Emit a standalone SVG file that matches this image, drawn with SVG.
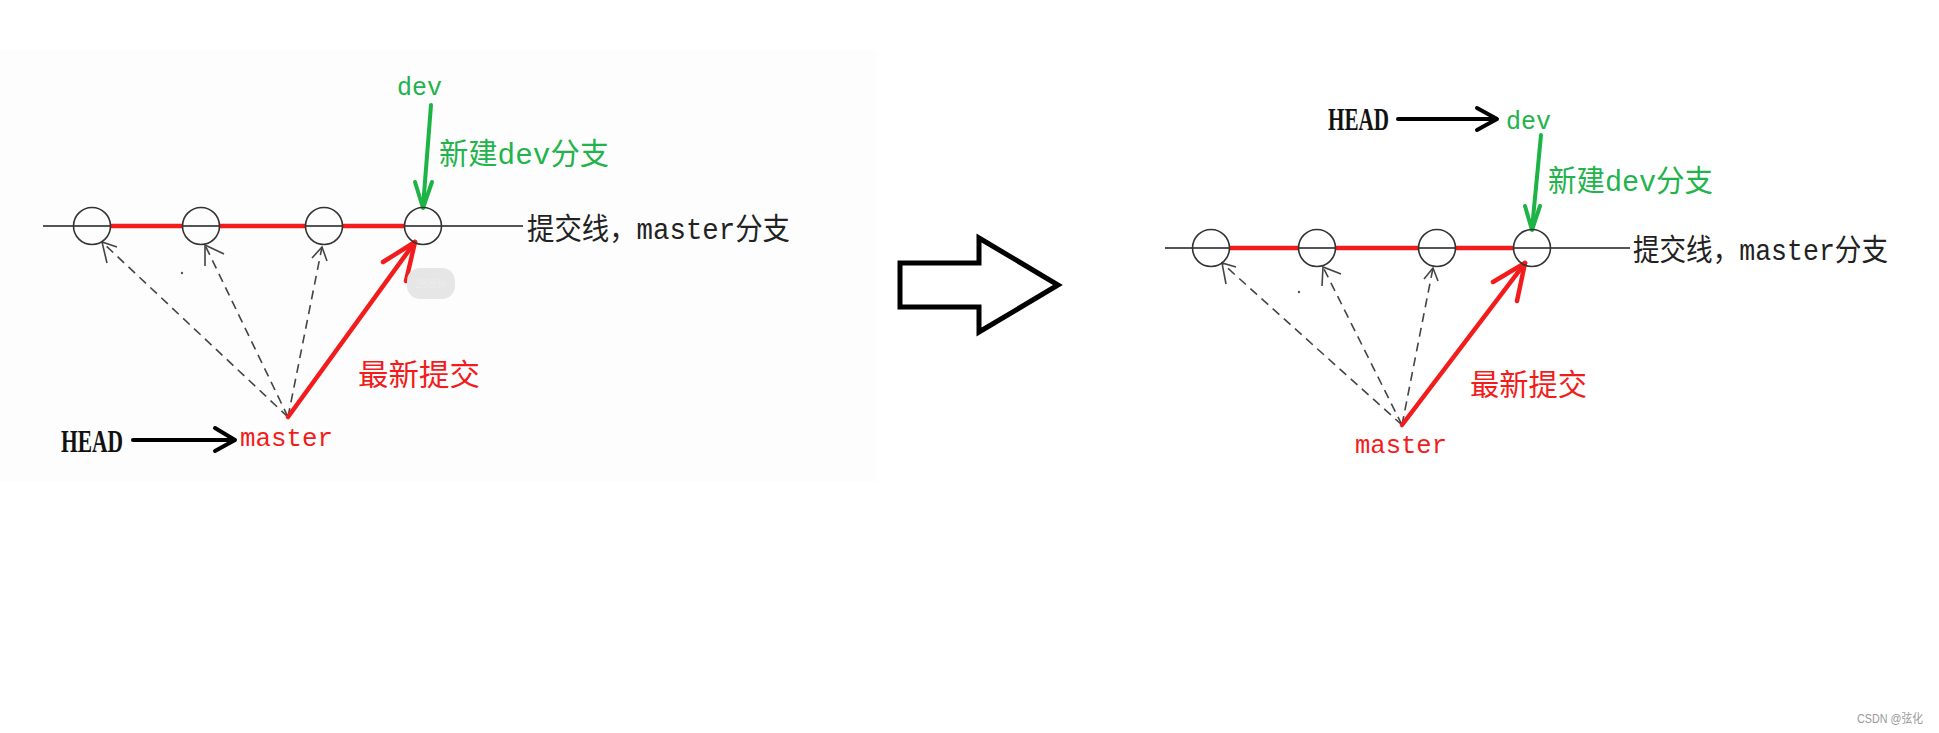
<svg xmlns="http://www.w3.org/2000/svg" width="1939" height="733" viewBox="0 0 1939 733">
  <style>
    .axis{stroke:#555;stroke-width:2;fill:none}
    .commit{stroke:#333;stroke-width:1.6;fill:none}
    .redline{stroke:#f21c1c;stroke-width:4.5;fill:none}
    .dash{stroke:#444;stroke-width:1.6;stroke-dasharray:9 6;fill:none}
    .dhead{stroke:#444;stroke-width:1.6;fill:none}
    .red{stroke:#f21c1c;stroke-width:4.5;fill:none;stroke-linecap:round;stroke-linejoin:round}
    .green{stroke:#1db446;stroke-width:4;fill:none;stroke-linecap:round;stroke-linejoin:round}
    .black{stroke:#000;stroke-width:4;fill:none;stroke-linecap:round;stroke-linejoin:round}
    .cjk{font-family:"Liberation Mono","Noto Sans CJK SC",monospace;font-size:30px}
    .mono{font-family:"Liberation Mono","Noto Sans CJK SC",monospace;font-size:26px}
    .head{font-family:"Liberation Serif",serif;font-weight:bold;font-size:32px;fill:#111}
    .g{fill:#22b34c}
    .r{fill:#f21c1c}
    .k{fill:#222}
  </style>
  <rect x="0" y="0" width="1939" height="733" fill="#fff"/>
  <rect x="0" y="50" width="877" height="432" fill="#fdfdfd"/>

  <!-- LEFT DIAGRAM -->
  <g id="left-axis">
    <line class="axis" x1="43" y1="226" x2="523" y2="226"/>
  </g>
  <g id="left-connectors">
    <line class="redline" x1="110.5" y1="226" x2="182.5" y2="226"/>
    <line class="redline" x1="219.5" y1="226" x2="305.5" y2="226"/>
    <line class="redline" x1="342.5" y1="226" x2="404.5" y2="226"/>
    <line class="dash" x1="288" y1="417" x2="102" y2="242"/>
    <path class="dhead" d="M107,263 L102,242 L117,247"/>
    <line class="dash" x1="288" y1="417" x2="205" y2="245"/>
    <path class="dhead" d="M205,266 L205,245 L224,254"/>
    <line class="dash" x1="288" y1="417" x2="322" y2="247"/>
    <path class="dhead" d="M312,258 L322,247 L327,261"/>
    <line class="red" x1="288" y1="417" x2="415" y2="242"/>
    <path class="red" d="M383,262 L415,242 L406,281"/>
    <line class="green" x1="431" y1="105" x2="423" y2="207"/>
    <path class="green" d="M415,182 L423,208 L432,182"/>
    <line class="black" x1="133" y1="440" x2="233" y2="440"/>
    <path class="black" d="M215,428 L235,440 L215,451"/>
    <circle cx="182" cy="273" r="1.2" fill="#555"/>
  </g>
  <g id="left-c1"><circle class="commit" cx="92" cy="226" r="18.5"/></g>
  <g id="left-c2"><circle class="commit" cx="201" cy="226" r="18.5"/></g>
  <g id="left-c3"><circle class="commit" cx="324" cy="226" r="18.5"/></g>
  <g id="left-c4"><circle class="commit" cx="423" cy="226" r="18.5"/></g>
  <g id="left-dev"><text class="mono g" x="397" y="95" textLength="45" lengthAdjust="spacingAndGlyphs">dev</text></g>
  <g id="left-newdev"><text class="cjk g" x="439" y="164" textLength="170" lengthAdjust="spacingAndGlyphs">新建dev分支</text></g>
  <g id="left-line-label"><text class="cjk k" x="527" y="239" textLength="263" lengthAdjust="spacingAndGlyphs">提交线，master分支</text></g>
  <g id="left-latest"><text class="cjk r" x="358" y="385" textLength="122" lengthAdjust="spacingAndGlyphs">最新提交</text></g>
  <g id="left-head"><text class="head" x="61" y="452" textLength="62" lengthAdjust="spacingAndGlyphs">HEAD</text></g>
  <g id="left-master"><text class="mono r" x="240" y="446" textLength="93" lengthAdjust="spacingAndGlyphs">master</text></g>
  <g id="zoom-badge">
    <rect x="407" y="268" width="48" height="31" rx="13" fill="#e6e6e6"/>
    <text x="431" y="288" text-anchor="middle" font-family="Liberation Sans, sans-serif" font-size="12" fill="#ececec">266%</text>
  </g>

  <!-- BIG ARROW -->
  <g id="transition-arrow">
    <polygon points="900,263 979,263 979,238 1058,285 979,332 979,307 900,307" fill="#fff" stroke="#000" stroke-width="5" stroke-linejoin="miter"/>
  </g>

  <!-- RIGHT DIAGRAM -->
  <g id="right-axis">
    <line class="axis" x1="1165" y1="248" x2="1630" y2="248"/>
  </g>
  <g id="right-connectors">
    <line class="redline" x1="1229.5" y1="248" x2="1298.5" y2="248"/>
    <line class="redline" x1="1335.5" y1="248" x2="1418.5" y2="248"/>
    <line class="redline" x1="1455.5" y1="248" x2="1513.5" y2="248"/>
    <line class="dash" x1="1402" y1="425" x2="1222" y2="263"/>
    <path class="dhead" d="M1226,284 L1222,263 L1236,267"/>
    <line class="dash" x1="1402" y1="425" x2="1323" y2="267"/>
    <path class="dhead" d="M1322,286 L1323,267 L1341,274"/>
    <line class="dash" x1="1402" y1="425" x2="1433" y2="268"/>
    <path class="dhead" d="M1424,279 L1433,268 L1438,281"/>
    <line class="red" x1="1402" y1="425" x2="1525" y2="263"/>
    <path class="red" d="M1493,282 L1525,263 L1517,301"/>
    <line class="green" x1="1541" y1="135" x2="1532" y2="229"/>
    <path class="green" d="M1525,206 L1532,230 L1540,206"/>
    <line class="black" x1="1398" y1="119" x2="1495" y2="119"/>
    <path class="black" d="M1477,108 L1497,119 L1477,130"/>
    <circle cx="1299" cy="292" r="1.2" fill="#555"/>
  </g>
  <g id="right-c1"><circle class="commit" cx="1211" cy="248" r="18.5"/></g>
  <g id="right-c2"><circle class="commit" cx="1317" cy="248" r="18.5"/></g>
  <g id="right-c3"><circle class="commit" cx="1437" cy="248" r="18.5"/></g>
  <g id="right-c4"><circle class="commit" cx="1532" cy="248" r="18.5"/></g>
  <g id="right-head"><text class="head" x="1328" y="130" textLength="61" lengthAdjust="spacingAndGlyphs">HEAD</text></g>
  <g id="right-dev"><text class="mono g" x="1506" y="129" textLength="45" lengthAdjust="spacingAndGlyphs">dev</text></g>
  <g id="right-newdev"><text class="cjk g" x="1548" y="191" textLength="165" lengthAdjust="spacingAndGlyphs">新建dev分支</text></g>
  <g id="right-line-label"><text class="cjk k" x="1633" y="260" textLength="255" lengthAdjust="spacingAndGlyphs">提交线，master分支</text></g>
  <g id="right-latest"><text class="cjk r" x="1470" y="395" textLength="117" lengthAdjust="spacingAndGlyphs">最新提交</text></g>
  <g id="right-master"><text class="mono r" x="1355" y="453" textLength="92" lengthAdjust="spacingAndGlyphs">master</text></g>

  <g id="watermark"><text x="1857" y="723" font-family="Liberation Sans,'Noto Sans CJK SC',sans-serif" font-size="12" fill="#999" textLength="66" lengthAdjust="spacingAndGlyphs">CSDN @弦化</text></g>
</svg>
